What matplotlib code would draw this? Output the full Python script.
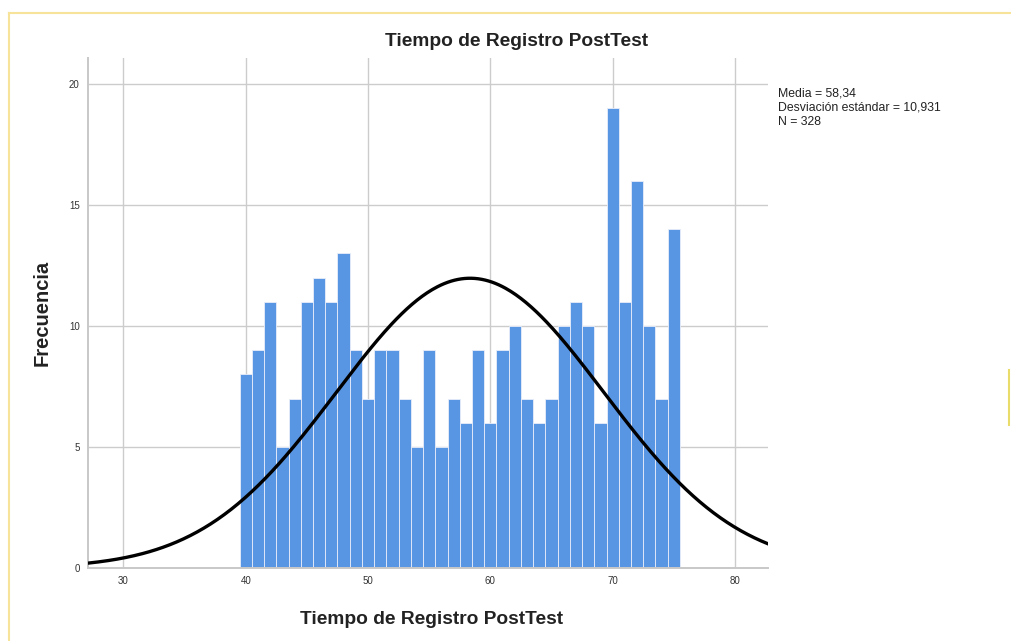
import numpy as np
import matplotlib
matplotlib.use("Agg")
from matplotlib import pyplot as plt
from matplotlib.lines import Line2D

# histogram bins (centres) and counts
centres = np.arange(40, 76)
counts = [8, 9, 11, 5, 7, 11, 12, 11, 13, 9,
          7, 9, 9, 7, 5, 9, 5, 7, 6, 9,
          6, 9, 10, 7, 6, 7, 10, 11, 10, 6,
          19, 11, 16, 10, 7, 14]
media = 58.34
desv = 10.931
n = 328
xticks = [30, 40, 50, 60, 70, 80]
yticks = [0, 5, 10, 15, 20]

plt.rcParams['font.family'] = ['Liberation Sans', 'DejaVu Sans']

fig = plt.figure(figsize=(10.11, 6.41), dpi=100)
ax = fig.add_axes([88/1011, 1 - 568/641, 680/1011, 510/641])

ax.bar(centres, counts, width=1.0, color='#5895e3', edgecolor='#e8eefa',
       linewidth=0.6, zorder=2)

# normal curve from the stats
xs = np.linspace(27.1, 82.7, 400)
ys = n * 1.0 / (desv * np.sqrt(2*np.pi)) * np.exp(-0.5*((xs - media)/desv)**2)
ax.plot(xs, ys, color='black', lw=2.4, zorder=3)

ax.set_xlim(27.1, 82.7)
ax.set_ylim(0, 21.07)
ax.set_xticks(xticks)
ax.set_yticks(yticks)
ax.grid(True, color='#cccccc', lw=1.0, zorder=0)
ax.set_axisbelow(True)
ax.tick_params(length=0, labelsize=7, colors='#333333', pad=6)
for s in ['top', 'right']:
    ax.spines[s].set_visible(False)
for s in ['left', 'bottom']:
    ax.spines[s].set_color('#c8c8c8')
    ax.spines[s].set_linewidth(1.4)

fig.text(517/1011, 1 - 42/641, 'Tiempo de Registro PostTest', ha='center',
         va='center', fontsize=13.8, fontweight='bold', color='#222222')
fig.text(432/1011, 1 - 620/641, 'Tiempo de Registro PostTest', ha='center',
         va='center', fontsize=13.8, fontweight='bold', color='#222222')
fig.text(42/1011, 1 - 313/641, 'Frecuencia', ha='center', va='center',
         rotation=90, fontsize=14.5, fontweight='bold', color='#222222')

info = ['Media = 58,34', 'Desviación estándar = 10,931', 'N = 328']
for i, t in enumerate(info):
    fig.text(778/1011, 1 - (93 + 14.5*i)/641, t, ha='left', va='center',
             fontsize=8.8, color='#222222')

# yellow frame from the screenshot
frame = '#f7e39a'
fig.add_artist(Line2D([9/1011, 9/1011], [0, 1 - 13/641], color=frame, lw=1.5))
fig.add_artist(Line2D([9/1011, 1], [1 - 13/641, 1 - 13/641], color=frame, lw=1.5))
fig.add_artist(Line2D([1009/1011, 1009/1011], [1 - 425/641, 1 - 370/641],
                      color='#e9dc6a', lw=1.5))

fig.savefig('out.png', dpi=100)
